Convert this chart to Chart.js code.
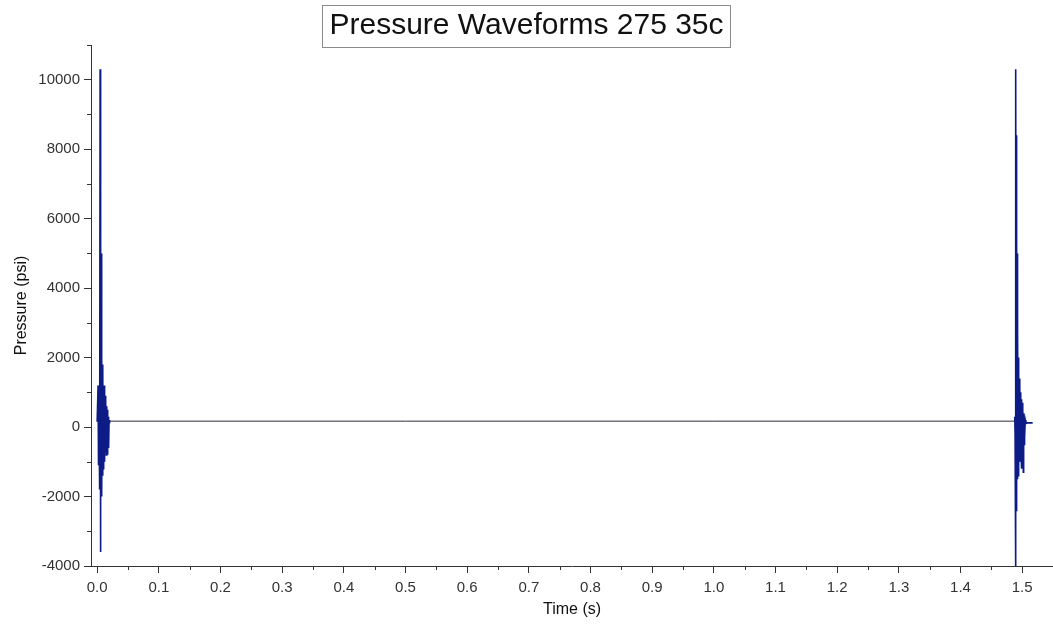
<!DOCTYPE html>
<html>
<head>
<meta charset="utf-8">
<script src="https://cdn.jsdelivr.net/npm/chart.js@4.4.1/dist/chart.umd.min.js"></script>
<style>
    html, body { margin: 0; padding: 0; background: #fff; }
    #wrap { width: 1053px; height: 624px; }
</style>
</head>
<body>
<div id="wrap"><canvas id="chart"></canvas></div>
<script>
// first burst (s, psi)
const leftTime = [0.0000, 0.0010, 0.0015, 0.0018, 0.0022, 0.0026, 0.0030, 0.0040, 0.0048, 0.0052,
    0.0056, 0.0060, 0.0064, 0.0068, 0.0073, 0.0078, 0.0083, 0.0088, 0.0093, 0.0098,
    0.0103, 0.0108, 0.0113, 0.0118, 0.0123, 0.0128, 0.0133, 0.0138, 0.0143, 0.0148,
    0.0153, 0.0158, 0.0163, 0.0168, 0.0173, 0.0178, 0.0183, 0.0188, 0.0193, 0.0198, 0.0205];
const leftPressure = [150, 150, 1200, -1100, 900, -900, 300, -1800, 10300, -3600,
    7500, -2200, 5000, -1500, 1900, -2000, 1800, -1400, 1600, -1200,
    1100, -900, 1200, -1000, 800, -700, 900, -600, 700, -800,
    600, -500, 500, -800, 400, -400, 300, -600, 200, 100, 170];

// flat part between the bursts
const baseTime = [0.0205, 0.5000, 1.0000, 1.4870];
const basePressure = [170, 170, 170, 170];

// second burst
const rightTime = [1.4870, 1.4880, 1.4885, 1.4890, 1.4895, 1.4900, 1.4904, 1.4908, 1.4912, 1.4917,
    1.4922, 1.4928, 1.4934, 1.4940, 1.4946, 1.4952, 1.4958, 1.4964, 1.4970, 1.4976,
    1.4982, 1.4988, 1.4994, 1.5000, 1.5006, 1.5012, 1.5018, 1.5024, 1.5030, 1.5036,
    1.5042, 1.5050, 1.5060, 1.5080, 1.5170];
const rightPressure = [170, 300, -200, 400, -4100, 10300, -2400, 8400, -1800, 5000,
    -1500, 3000, -1400, 2000, -1200, 1400, -1000, 1200, -900, 1000,
    -800, 800, -1200, 700, -600, 600, -1300, 400, -500, 300,
    -300, 200, 100, 120, 120];

const xTicks = [0.0, 0.1, 0.2, 0.3, 0.4, 0.5, 0.6, 0.7, 0.8, 0.9, 1.0, 1.1, 1.2, 1.3, 1.4, 1.5];
const yTicks = [-4000, -2000, 0, 2000, 4000, 6000, 8000, 10000];

const FONT = "'Liberation Sans', Arial, sans-serif";
const WAVE = '#0c1b86';

function toPoints(xs, ys) {
    return xs.map((x, i) => ({ x: x, y: ys[i] }));
}

// Origin style minor ticks + boxed title
const extrasPlugin = {
    id: 'extras',
    afterDraw(chart) {
        const ctx = chart.ctx;
        const xs = chart.scales.x;
        const ys = chart.scales.y;
        const xHalf = (xTicks[1] - xTicks[0]) / 2;
        const yHalf = (yTicks[1] - yTicks[0]) / 2;
        ctx.save();
        ctx.strokeStyle = '#333';
        ctx.lineWidth = 1;
        ctx.beginPath();
        xTicks.forEach(t => {
            const v = t + xHalf;
            if (v <= xs.max) {
                const px = Math.round(xs.getPixelForValue(v)) + 0.5;
                ctx.moveTo(px, xs.top);
                ctx.lineTo(px, xs.top + 4);
            }
        });
        yTicks.forEach(t => {
            const v = t + yHalf;
            if (v <= ys.max) {
                const py = Math.round(ys.getPixelForValue(v)) + 0.5;
                ctx.moveTo(ys.right, py);
                ctx.lineTo(ys.right - 4, py);
            }
        });
        ctx.stroke();

        const tb = chart.titleBlock;
        ctx.font = '30px ' + FONT;
        const w = ctx.measureText(tb.options.text).width;
        const cx = (tb.left + tb.right) / 2;
        ctx.strokeStyle = '#8a8a8a';
        ctx.strokeRect(Math.round(cx - w / 2 - 7) + 0.5, 5.5, Math.round(w + 14), 42);
        ctx.restore();
    }
};

new Chart(document.getElementById('chart'), {
    type: 'line',
    data: {
        datasets: [
            { data: toPoints(leftTime, leftPressure), borderColor: WAVE, borderWidth: 1.6 },
            { data: toPoints(baseTime, basePressure), borderColor: '#2b2e3e', borderWidth: 1 },
            { data: toPoints(rightTime, rightPressure), borderColor: WAVE, borderWidth: 1.6 }
        ]
    },
    options: {
        responsive: true,
        maintainAspectRatio: false,
        animation: false,
        layout: { padding: { left: 0, right: 0, top: 0, bottom: 0 } },
        elements: {
            line: { tension: 0 },
            point: { radius: 0 }
        },
        plugins: {
            legend: { display: false },
            tooltip: { enabled: false },
            title: {
                display: true,
                text: 'Pressure Waveforms 275 35c',
                color: '#111',
                font: { family: FONT, size: 30, weight: 'normal' },
                padding: { top: 8, bottom: 1 }
            }
        },
        scales: {
            x: {
                type: 'linear',
                min: -0.01,
                max: 1.55,
                afterBuildTicks(scale) { scale.ticks = xTicks.map(v => ({ value: v })); },
                grid: { drawOnChartArea: false, tickLength: 7, color: '#333' },
                border: { color: '#333', width: 1 },
                ticks: {
                    maxRotation: 0,
                    autoSkip: false,
                    padding: 6,
                    color: '#333',
                    font: { family: FONT, size: 15 },
                    callback: v => v.toFixed(1)
                },
                title: {
                    display: true,
                    text: 'Time (s)',
                    color: '#111',
                    font: { family: FONT, size: 16 },
                    padding: { top: 2, bottom: 5 }
                },
                afterFit(scale) { scale.height = 58; }
            },
            y: {
                type: 'linear',
                min: -4000,
                max: 11000,
                afterBuildTicks(scale) { scale.ticks = yTicks.map(v => ({ value: v })); },
                grid: { drawOnChartArea: false, tickLength: 7, color: '#333' },
                border: { color: '#333', width: 1 },
                ticks: {
                    autoSkip: false,
                    padding: 4,
                    color: '#333',
                    font: { family: FONT, size: 15 },
                    callback: v => String(v)
                },
                title: {
                    display: true,
                    text: 'Pressure (psi)',
                    color: '#111',
                    font: { family: FONT, size: 16 },
                    padding: { top: 12, bottom: 4 }
                },
                afterFit(scale) { scale.width = 91; }
            }
        }
    },
    plugins: [extrasPlugin]
});
</script>
</body>
</html>
